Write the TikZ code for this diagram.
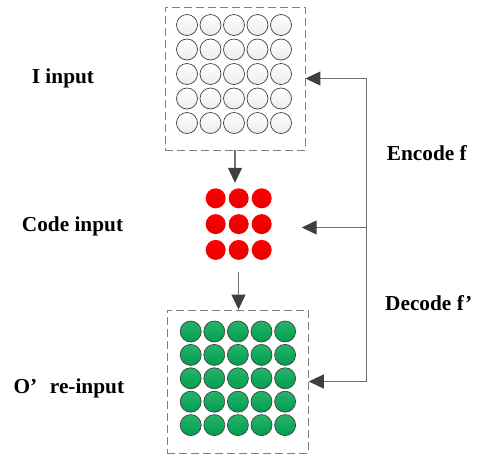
\documentclass[tikz,border=0pt]{standalone}
\usepackage{fontspec}
\setmainfont{Liberation Serif}
\usetikzlibrary{arrows.meta}
\definecolor{linegray}{HTML}{404040}
\definecolor{shaftgray}{HTML}{707070}
\definecolor{boxgray}{HTML}{7F7F7F}
\definecolor{outgreen}{HTML}{00A651}
\tikzset{frame/.style = {draw=boxgray, dash pattern=on 8pt off 4pt, line width=0.9pt, minimum width=140pt, minimum height=143pt}}
\tikzset{incirc/.style = {circle, draw=linegray, line width=0.7pt, top color=white, bottom color=gray!15, minimum size=21pt, inner sep=0pt}}
\tikzset{codecirc/.style = {circle, top color=red, bottom color=red!90!black, minimum size=20pt, inner sep=0pt}}
\tikzset{outcirc/.style = {circle, draw=linegray, line width=0.7pt, top color=outgreen!85!white, bottom color=outgreen!95!black, minimum size=21pt, inner sep=0pt}}
\tikzset{arr/.style = {-{Triangle[length=15pt,width=14pt,color=linegray]}, draw=shaftgray, line width=1.1pt}}
\tikzset{lbl/.style = {anchor=base west, inner sep=0pt, font=\fontsize{21.3}{24}\selectfont\bfseries}}

\begin{document}
\begin{tikzpicture}[x=1pt,y=-1pt]
  \useasboundingbox (0,0) rectangle (477,456);

  \node[frame] (inbox) at (235,78.5) {};
  \node[frame, minimum width=141pt] (outbox) at (237.8,381.5) {};
  \node[minimum width=126pt, minimum height=89pt] (code) at (238.5,227.5) {};

  \foreach \i in {0,...,4}
    \foreach \j in {0,...,4}
      \node[incirc] (w\i\j) at (187+23.5*\i, 25+24.5*\j) {};
  \foreach \i in {0,1,2}
    \foreach \j in {0,1,2}
      \node[codecirc] (r\i\j) at (215.7+23*\i, 198.3+25.8*\j) {};
  \foreach \i in {0,...,4}
    \foreach \j in {0,...,4}
      \node[outcirc] (g\i\j) at (190.7+23.6*\i, 331.5+23.4*\j) {};

  \draw[arr] (inbox.south) -- (inbox.south |- code.north);
  \draw[arr] (code.south) -- (code.south |- outbox.north);

  \coordinate (ftop) at (366.7,78.5);
  \coordinate (fmid) at (366.7,227.5);
  \coordinate (fbot) at (366.7,381.5);
  \draw[draw=shaftgray, line width=1.1pt] (ftop) -- (fbot);
  \draw[arr] (ftop) -- (inbox.east);
  \draw[arr] (fmid) -- (code.east);
  \draw[arr] (fbot) -- (outbox.east);

  \node[lbl] (ilbl) at (31.7,83.3) {I input};
  \node[lbl] (clbl) at (21.7,231) {Code input};
  \node[lbl] (olbl) at (13.3,393.3) {O’\hspace{0.6em}re-input};
  \node[lbl] (enc) at (386.7,160) {Encode f};
  \node[lbl] (dec) at (385,310) {Decode f’};
\end{tikzpicture}
\end{document}
